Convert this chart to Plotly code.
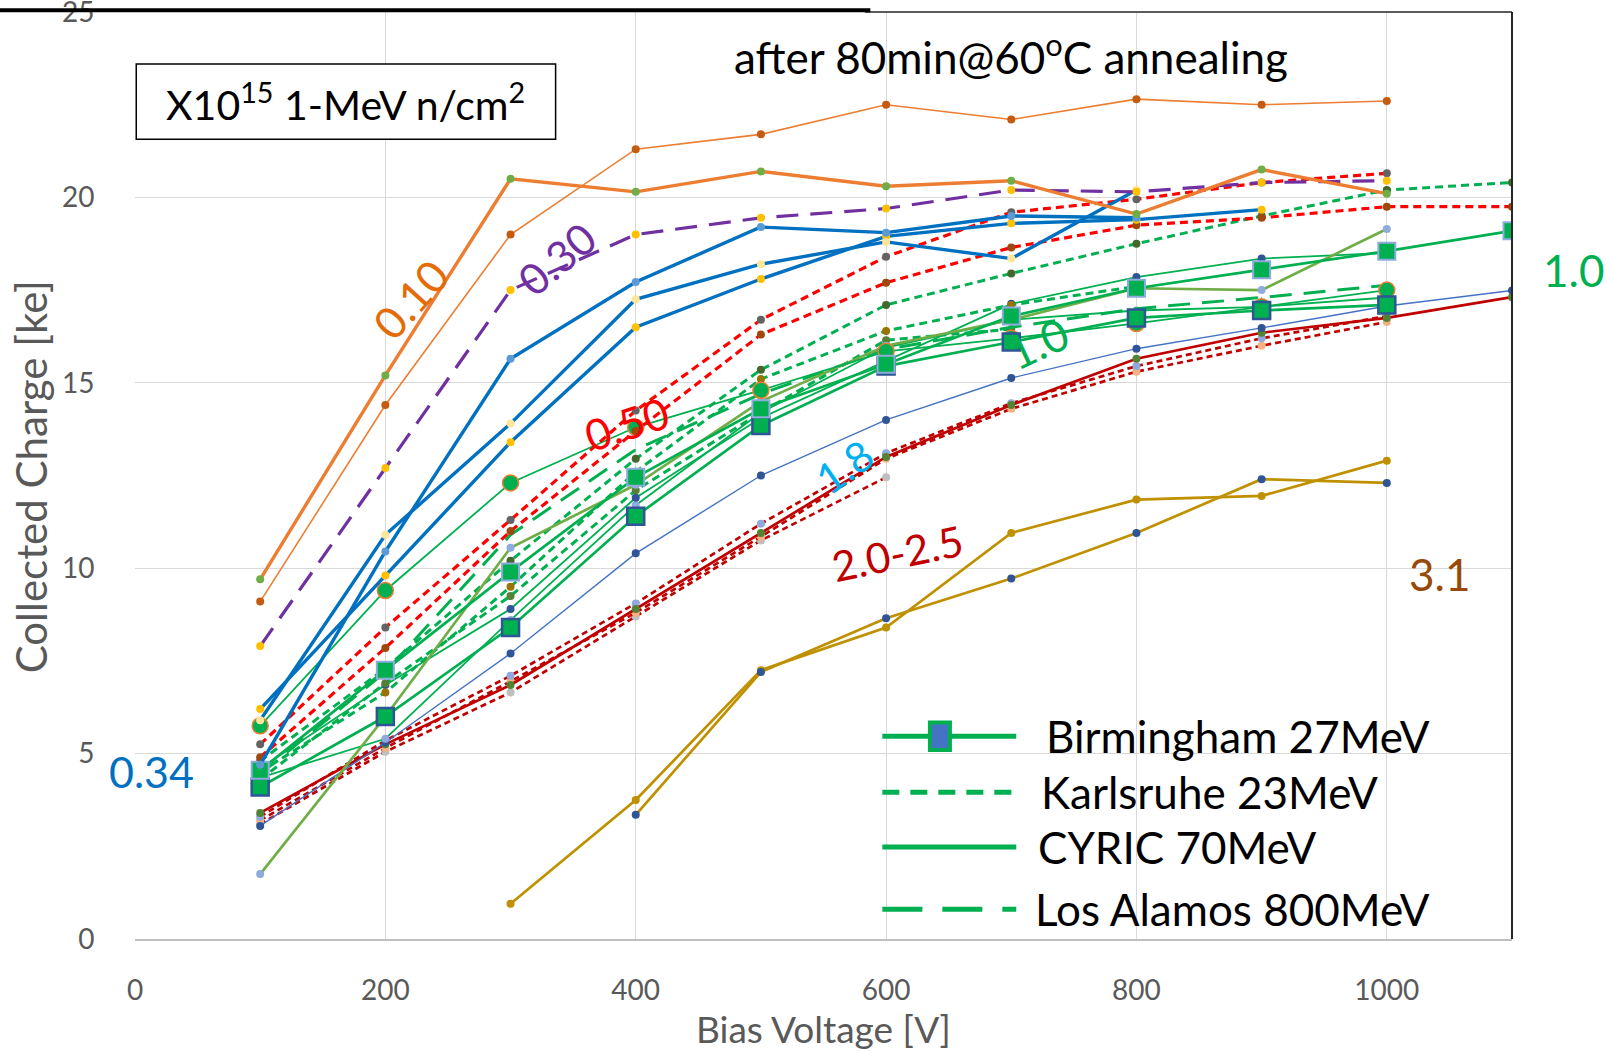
import plotly.graph_objects as go

# Bias voltage points [V]
voltage = [100, 200, 300, 400, 500, 600, 700, 800, 900, 1000, 1100]

# Collected charge [ke] per sample, grouped by fluence (x10^15 1-MeV n/cm2)
q_010_a = [9.1, 14.4, 19.0, 21.3, 21.7, 22.5, 22.1, 22.65, 22.5, 22.6, None]
q_010_b = [9.7, 15.2, 20.5, 20.15, 20.7, 20.3, 20.45, 19.55, 20.75, 20.1, None]
q_030 = [7.9, 12.7, 17.5, 19.0, 19.45, 19.7, 20.2, 20.15, 20.4, 20.45, None]
q_034_a = [4.7, 10.45, 15.65, 17.72, 19.2, 19.05, 19.5, 19.45, None, None, None]
q_034_b = [5.9, 10.9, 13.9, 17.25, 18.2, 18.8, 18.35, 20.2, None, None, None]
q_034_c = [6.2, 9.8, 13.4, 16.5, 17.8, 18.95, 19.3, 19.4, 19.67, None, None]
q_050_a = [5.25, 8.4, 11.3, 14.25, 16.7, 18.4, 19.6, 19.95, 20.4, 20.65, None]
q_050_b = [4.9, 7.85, 11.0, 13.7, 16.3, 17.7, 18.65, 19.25, 19.45, 19.75, 19.75]
# 1.0 samples from the four proton facilities
q_bham_a = [4.55, 7.25, 9.9, 12.45, 14.3, 15.5, 16.8, 17.55, 18.05, 18.55, 19.1]
q_bham_b = [4.1, 6.0, 8.4, 11.4, 13.85, 15.45, 16.1, 16.75, 16.95, 17.1, None]
q_ka_a = [4.8, 7.3, 10.2, 12.95, 15.35, 17.1, 17.95, 18.75, 19.5, 20.2, 20.4]
q_ka_b = [4.5, 6.65, 9.5, 12.6, 15.1, 16.4, 17.1, 17.6, None, None, None]
q_ka_c = [4.3, 6.9, 9.25, 12.1, 14.2, 16.15, 16.45, None, None, None, None]
q_cy_a = [4.6, 6.85, 8.9, 11.9, 14.05, 15.6, 17.13, 17.85, 18.35, 18.5, None]
q_cy_b = [4.35, 5.4, 8.6, 11.7, 14.2, 15.95, 16.7, 16.95, 17.05, 17.3, None]
q_cy_c = [5.75, 9.4, 12.3, 13.8, 14.8, 15.85, 16.2, 16.6, 17.05, 17.5, None]
q_cy_d = [1.75, 6.0, 10.55, 12.25, 14.5, 16.0, 16.7, 17.55, 17.5, 19.15, None]
q_la = [4.45, 7.2, 10.9, 13.2, 14.7, 15.9, 16.5, 17.0, 17.3, 17.63, None]
q_18 = [3.05, 5.3, 7.7, 10.4, 12.5, 14.0, 15.13, 15.92, 16.48, 17.07, 17.49]
q_2x_a = [3.4, 5.25, 6.85, 8.9, 10.95, 13.0, 14.4, 15.65, 16.35, 16.75, 17.31]
q_2x_b = [3.3, 5.35, 7.1, 9.05, 11.2, 13.1, 14.45, 15.45, 16.2, 16.8, None]
q_2x_c = [3.2, 5.15, 6.95, 8.8, 10.85, 12.95, 14.3, 15.3, 16.0, 16.64, None]
q_2x_d = [3.1, 5.05, 6.65, 8.7, 10.75, 12.45, None, None, None, None, None]
q_31_a = [None, None, 0.95, 3.75, 7.25, 8.4, 10.95, 11.85, 11.95, 12.9, None]
q_31_b = [None, None, None, 3.35, 7.2, 8.65, 9.72, 10.95, 12.4, 12.3, None]

x_ticks = [0, 200, 400, 600, 800, 1000]
y_ticks = [0, 5, 10, 15, 20, 25]

legend_names = ["Birmingham 27MeV", "Karlsruhe 23MeV", "CYRIC 70MeV", "Los Alamos 800MeV"]

GREEN = "#00B050"
FONT = "Lato"

fig = go.Figure()


def add(vals, color, width, mcolor, dash="solid", msize=8, symbol="circle",
        mline=None, mlw=0):
    fig.add_trace(go.Scatter(
        x=voltage, y=vals, mode="lines+markers",
        line=dict(color=color, width=width, dash=dash),
        marker=dict(color=mcolor, size=msize, symbol=symbol,
                    line=dict(color=mline or mcolor, width=mlw)),
        connectgaps=False, showlegend=False, hoverinfo="skip"))


# 3.1
add(q_31_a, "#BF9000", 2.7, "#BF9000")
add(q_31_b, "#BF9000", 2.7, "#2F5597")
# 2.0-2.5
add(q_2x_d, "#C00000", 2.7, "#BFBFBF", dash="6px,4px")
add(q_2x_c, "#C00000", 2.7, "#F4B183", dash="6px,4px")
add(q_2x_b, "#C00000", 2.7, "#8FAADC", dash="6px,4px")
add(q_2x_a, "#C00000", 2.7, "#548235")
# 1.8
add(q_18, "#4472C4", 1.4, "#2F5597")
# 1.0 green group
add(q_cy_b, GREEN, 1.8, "#8FAADC")
add(q_cy_a, GREEN, 1.8, "#2F5597")
add(q_ka_c, GREEN, 3, "#548235", dash="8px,5px")
add(q_ka_b, GREEN, 3, "#997300", dash="8px,5px")
add(q_ka_a, GREEN, 3, "#43682B", dash="8px,5px")
add(q_la, GREEN, 3, GREEN, dash="22px,12px", msize=1)
add(q_cy_d, "#70AD47", 2.7, "#8FAADC")
add(q_cy_c, GREEN, 1.8, GREEN, msize=16, mline="#ED7D31", mlw=1.5)
add(q_bham_b, GREEN, 2.7, GREEN, msize=17, symbol="square", mline="#2F5597", mlw=2.5)
add(q_bham_a, GREEN, 2.7, GREEN, msize=17, symbol="square", mline="#8FAADC", mlw=2)
# 0.50
add(q_050_b, "#FF0000", 3.2, "#9E480E", dash="8px,5px")
add(q_050_a, "#FF0000", 3.2, "#636363", dash="8px,5px")
# 0.34
add(q_034_c, "#0070C0", 3.4, "#FFC000")
add(q_034_b, "#0070C0", 3.4, "#FFE699")
add(q_034_a, "#0070C0", 3.4, "#5B9BD5")
# 0.30
add(q_030, "#7030A0", 3.2, "#FFC000", dash="22px,12px")
# 0.10
add(q_010_b, "#ED7D31", 3.4, "#70AD47")
add(q_010_a, "#ED7D31", 1.6, "#C55A11")

shapes = []
# frame on the top and right
shapes.append(dict(type="line", xref="paper", yref="paper", x0=0.53, x1=1, y0=1, y1=1,
                   line=dict(color="#262626", width=1.5)))
shapes.append(dict(type="line", xref="paper", yref="paper", x0=1, x1=1, y0=0, y1=1,
                   line=dict(color="#262626", width=2)))
# heading underline
shapes.append(dict(type="line", xref="paper", yref="paper", x0=-0.1, x1=0.534,
                   y0=1.002, y1=1.002, line=dict(color="black", width=4)))
# fluence unit box
shapes.append(dict(type="rect", xref="x", yref="y", x0=1, x1=336, y0=21.57, y1=23.6,
                   line=dict(color="black", width=1.5), fillcolor="white"))

# legend samples
leg_y = [5.47, 3.96, 2.48, 0.80]
leg_dash = ["solid", "17px,11px", "solid", "40px,20px"]
for yy, dd in zip(leg_y, leg_dash):
    shapes.append(dict(type="line", xref="x", yref="y", x0=597, x1=704, y0=yy, y1=yy,
                       line=dict(color=GREEN, width=5, dash=dd)))
shapes.append(dict(type="rect", xref="x", yref="y", x0=635, x1=651, y0=5.1, y1=5.84,
                   line=dict(color=GREEN, width=4), fillcolor="#4472C4"))

annotations = []
for yy, name, xx in zip(leg_y, legend_names, [726, 722, 720, 717]):
    annotations.append(dict(x=xx, y=yy, xref="x", yref="y", text=name, showarrow=False,
                            xanchor="left", yanchor="middle",
                            font=dict(family=FONT, size=44, color="black")))

annotations.append(dict(x=168.5, y=22.58, xref="x", yref="y",
                        text="X10<sup>15</sup> 1-MeV n/cm<sup>2</sup>", showarrow=False,
                        font=dict(family=FONT, size=41, color="black")))
annotations.append(dict(x=700, y=23.86, xref="x", yref="y",
                        text="after 80min@60<sup>o</sup>C annealing", showarrow=False,
                        font=dict(family=FONT, size=44, color="black")))

labels = [
    ("0.10", 220, 17.26, -48, "#E36C09", 44),
    ("0.30", 337, 18.36, -40, "#7030A0", 43),
    ("0.50", 393, 13.91, -18, "#FF0000", 43),
    ("1.8", 567, 12.75, -35, "#00B0F0", 42),
    ("1.0", 721, 16.07, -25, GREEN, 44),
    ("2.0-2.5", 609, 10.4, -12, "#C00000", 42),
    ("3.1", 1042, 9.84, 0, "#984807", 44),
    ("0.34", 13, 4.52, 0, "#0070C0", 43),
]
for txt, xx, yy, ang, col, sz in labels:
    annotations.append(dict(x=xx, y=yy, xref="x", yref="y", text=txt, showarrow=False,
                            textangle=ang, font=dict(family=FONT, size=sz, color=col)))
# label to the right of the plot area
annotations.append(dict(x=1.068, y=18.04, xref="paper", yref="y", text="1.0",
                        showarrow=False, font=dict(family=FONT, size=44, color=GREEN)))

# axis titles
annotations.append(dict(x=0.5, y=0, xref="paper", yref="paper", yshift=-89,
                        text="Bias Voltage [V]", showarrow=False, yanchor="middle",
                        font=dict(family=FONT, size=37, color="#595959")))
annotations.append(dict(x=0, y=12.45, xref="paper", yref="y", xshift=-104,
                        text="Collected Charge [ke]", showarrow=False, textangle=-90,
                        xanchor="center", yanchor="middle",
                        font=dict(family=FONT, size=42, color="#595959")))

fig.update_layout(
    width=1607, height=1052,
    margin=dict(l=135, r=95, t=12, b=113, autoexpand=False),
    paper_bgcolor="white", plot_bgcolor="white",
    showlegend=False, hovermode=False,
    shapes=shapes, annotations=annotations,
    xaxis=dict(range=[0, 1100], tickvals=x_ticks, showgrid=True, gridcolor="#D9D9D9",
               gridwidth=1.2, zeroline=False, showline=True, linecolor="#BFBFBF",
               linewidth=1.5, ticks="outside", ticklen=26, tickcolor="rgba(0,0,0,0)",
               automargin=False,
               tickfont=dict(family=FONT, size=28, color="#595959")),
    yaxis=dict(range=[0, 25], tickvals=y_ticks, showgrid=True, gridcolor="#D9D9D9",
               gridwidth=1.2, zeroline=False, showline=False,
               ticks="outside", ticklen=34, tickcolor="rgba(0,0,0,0)",
               ticklabeloverflow="allow", automargin=False,
               tickfont=dict(family=FONT, size=28, color="#595959")),
)

fig.write_html("out.html")
